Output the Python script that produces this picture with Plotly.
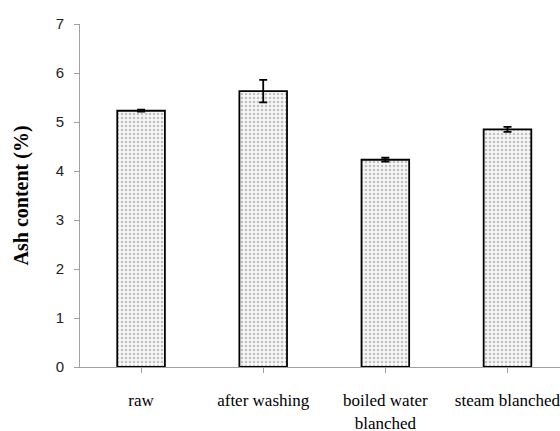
import plotly.graph_objects as go

categories = ["raw", "after washing", "boiled water<br>blanched", "steam blanched"]
ash_values = [5.23, 5.63, 4.23, 4.85]
ash_errors = [0.02, 0.23, 0.04, 0.05]

fig = go.Figure()
fig.add_trace(go.Bar(
    x=list(range(len(categories))),
    y=ash_values,
    error_y=dict(type="data", array=ash_errors, color="black", thickness=1.8, width=4),
    marker=dict(
        color="white",
        line=dict(color="black", width=1.8),
        pattern=dict(shape=".", fgcolor="#8a8a8a", bgcolor="#f6f6f6", size=4, solidity=0.3),
    ),
    width=0.39,
))

fig.add_annotation(
    text="<b>Ash content (%)</b>", textangle=-90,
    xref="paper", yref="paper", x=-0.121, y=0.5,
    xanchor="center", yanchor="middle", showarrow=False,
    font=dict(family="Liberation Serif", size=20, color="black"),
)

fig.update_layout(
    width=560, height=431,
    margin=dict(l=80, r=0, t=24, b=64, autoexpand=False),
    paper_bgcolor="white", plot_bgcolor="white",
    showlegend=False,
    xaxis=dict(
        range=[-0.5, 3.43],
        tickmode="array",
        tickvals=list(range(len(categories))),
        ticktext=categories,
        tickson="boundaries",
        ticks="outside", ticklen=5, tickcolor="#a0a0a0",
        showline=True, linecolor="#a0a0a0", linewidth=1,
        showgrid=False, zeroline=False, automargin=False,
        tickfont=dict(family="Liberation Serif", size=17, color="black"),
        ticklabelstandoff=13,
        ticklabeloverflow="allow",
    ),
    yaxis=dict(
        range=[0, 7],
        tickvals=[0, 1, 2, 3, 4, 5, 6, 7],
        ticks="outside", ticklen=5, tickcolor="#a0a0a0",
        showline=True, linecolor="#a0a0a0", linewidth=1,
        showgrid=False, zeroline=False, automargin=False,
        tickfont=dict(family="Liberation Sans", size=15, color="#222222"),
        ticklabelstandoff=7,
    ),
)

fig.write_html("out.html", config={"displayModeBar": False},
               post_script="document.body.style.margin='0';")
